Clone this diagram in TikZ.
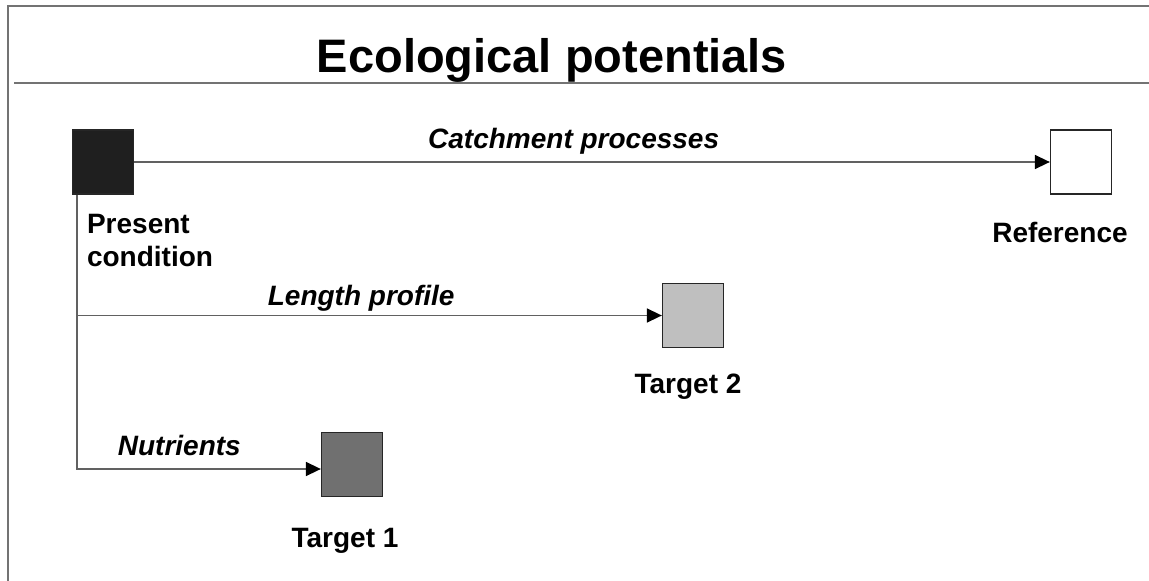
\documentclass[tikz,border=0pt]{standalone}
\usepackage{fontspec}
\setmainfont{Liberation Sans}
\usetikzlibrary{arrows.meta,positioning}

\begin{document}
\begin{tikzpicture}[x=1pt,y=-1pt,
	box/.style={draw=black!85,line width=1.3pt,minimum width=61pt,minimum height=64pt,inner sep=0pt},
	lbl/.style={font=\fontsize{28}{33}\selectfont\bfseries,inner sep=0pt},
	elbl/.style={font=\fontsize{28}{33}\selectfont\bfseries\itshape,inner sep=0pt,anchor=base},
	flow/.style={draw=black!62,line width=1.6pt,-{Triangle[length=15pt,width=14pt,color=black]}},
	frame/.style={draw=black!55,line width=2pt}]
	\useasboundingbox (0,0) rectangle (1149,581);
	\draw[frame] (1149,6) -- (8,6) -- (8,581);
	\draw[frame] (14,83) -- (1149,83);
	\node[font=\fontsize{47}{56}\selectfont\bfseries,anchor=base,inner sep=0pt] (title) at (552,72) {Ecological potentials};

	\node[box,fill=black!88] (present) at (103,162) {};
	\node[box,fill=white] (reference) at (1081,162) {};
	\node[box,fill=black!25] (target2) at (693,315.5) {};
	\node[box,fill=black!56] (target1) at (352,464.5) {};

	\node[lbl,anchor=north west,align=left] (presentlbl) at ([xshift=15pt,yshift=-19pt]present.south west) {Present\\condition};
	\node[lbl,anchor=base] (referencelbl) at ([xshift=-21pt,yshift=-48pt]reference.south) {Reference};
	\node[lbl,anchor=base] (target2lbl) at ([xshift=-5pt,yshift=-45pt]target2.south) {Target 2};
	\node[lbl,anchor=base] (target1lbl) at ([xshift=-7pt,yshift=-50pt]target1.south) {Target 1};

	\coordinate (trunk) at ([xshift=5pt]present.south west);
	\draw[flow] (present.east) -- node[elbl,pos=0.48,yshift=14pt]{Catchment processes} (reference.west);
	\draw[flow] (trunk) |- node[elbl,pos=0.71,yshift=14pt]{Nutrients} ([yshift=-4.5pt]target1.west);
	\draw[flow] (trunk |- target2.west) -- node[elbl,pos=0.486,yshift=10pt]{Length profile} (target2.west);
\end{tikzpicture}
\end{document}
